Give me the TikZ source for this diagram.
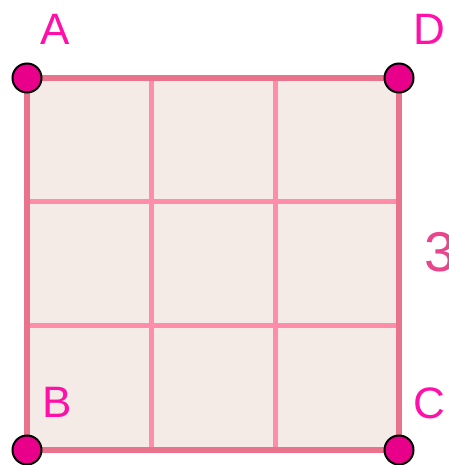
\documentclass[tikz,border=0pt]{standalone}
\usepackage{fontspec}
\setmainfont{Liberation Sans}
\usetikzlibrary{calc}
\definecolor{squarefill}{HTML}{F4EBE6}
\definecolor{edgepink}{HTML}{E9728C}
\definecolor{gridpink}{HTML}{FF8DAA}
\definecolor{dotpink}{HTML}{E8008A}
\definecolor{labelpink}{HTML}{FF10A8}
\definecolor{numpink}{HTML}{E9458C}
\begin{document}
\begin{tikzpicture}[x=1pt,y=-1pt]
\tikzstyle{corner node}=[circle,draw=black,fill=dotpink,line width=2pt,minimum size=29pt,inner sep=0]
\tikzstyle{letter}=[text=labelpink,font=\fontsize{44}{44}\selectfont,inner sep=0]
\tikzset{
	edge line/.style={draw=edgepink,line width=6.5pt},
	grid line/.style={draw=gridpink,line width=5pt}
}
\useasboundingbox (0,0) rectangle (448,465);
\coordinate (A) at (27,78);
\coordinate (D) at (399,78);
\coordinate (B) at (27,450);
\coordinate (C) at (399,450);
% square and grid
\fill[squarefill] (A) -- (D) -- (C) -- (B) -- cycle;
\foreach \t in {1/3,2/3}{
	\draw[grid line] ($(A)!\t!(D)$) -- ($(B)!\t!(C)$);
	\draw[grid line] ($(A)!\t!(B)$) -- ($(D)!\t!(C)$);
}
\draw[edge line] (A) -- (D) -- (C) -- (B) -- cycle;
% corners
\node[corner node] (a) at (A) {};
\node[corner node] (d) at (D) {};
\node[corner node] (b) at (B) {};
\node[corner node] (c) at (C) {};
\node[letter] (la) at (55,29) {A};
\node[letter] (ld) at (429,29) {D};
\node[letter] (lb) at (57,402) {B};
\node[letter] (lc) at (429,403) {C};
\node[text=numpink,font=\fontsize{56}{56}\selectfont,inner sep=0] (side) at (440,252) {3};
\end{tikzpicture}
\end{document}
